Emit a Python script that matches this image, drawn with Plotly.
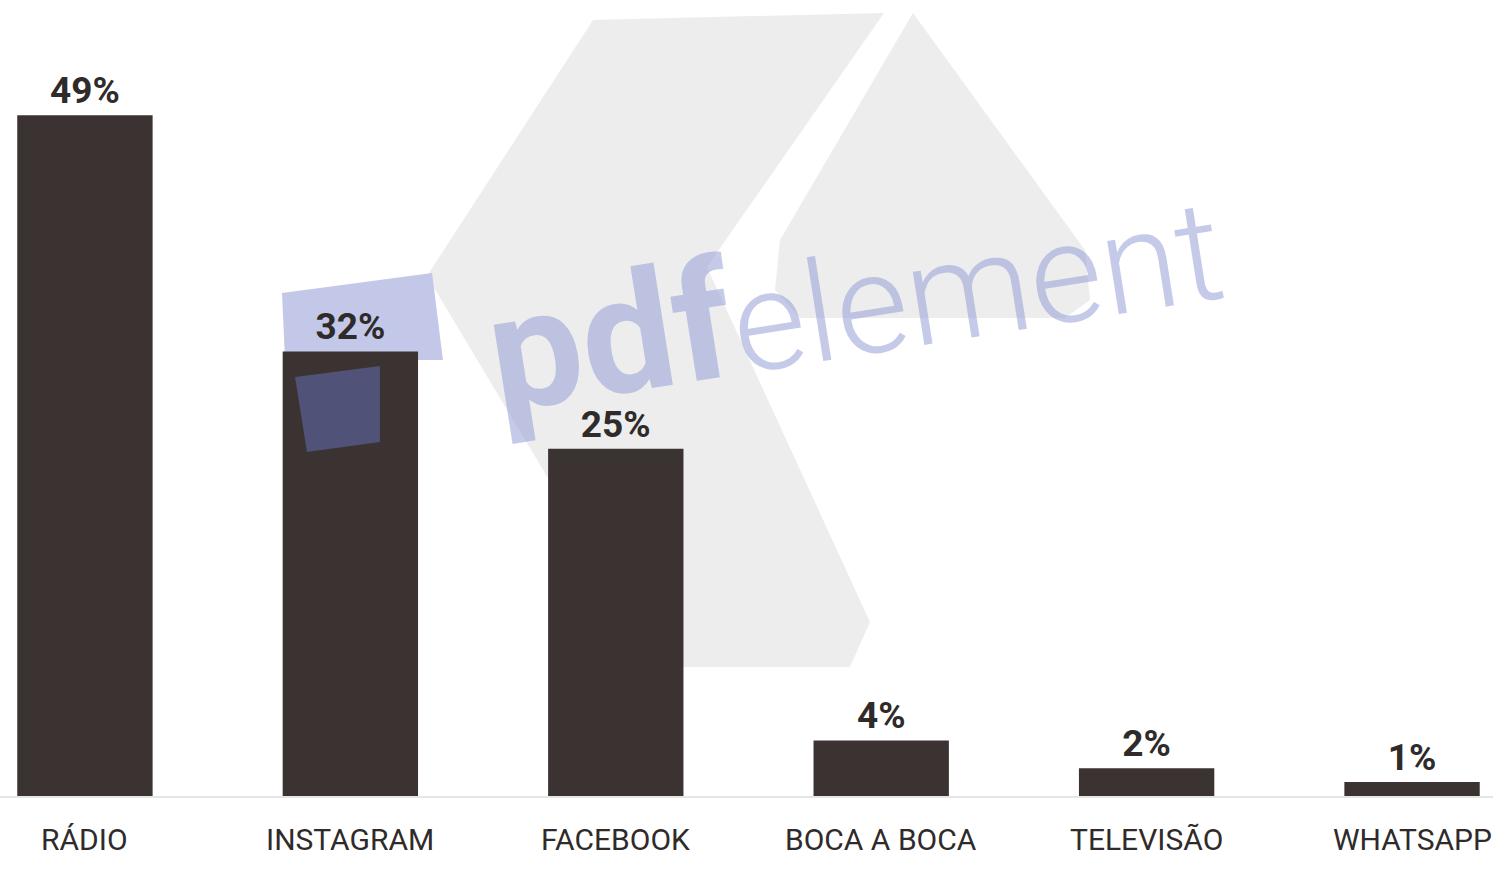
import plotly.graph_objects as go

categories = ["RÁDIO", "INSTAGRAM", "FACEBOOK", "BOCA A BOCA", "TELEVISÃO", "WHATSAPP"]
values = [49, 32, 25, 4, 2, 1]
value_labels = ["49%", "32%", "25%", "4%", "2%", "1%"]

bar_color = "#3a3331"
text_color = "#2f2b2a"
font_family = "Roboto, Arial, sans-serif"

W, H, B = 1493, 874, 78
x_pos = list(range(len(categories)))


def px_path(points):
    # watermark outline given in page pixels -> paper coordinates
    plot_h = H - B
    parts = [f"{x / W:.4f},{(plot_h - y) / plot_h:.4f}" for x, y in points]
    return "M" + " L".join(parts) + " Z"


fig = go.Figure()

fig.add_trace(
    go.Bar(
        x=x_pos,
        y=values,
        text=value_labels,
        textposition="outside",
        textfont=dict(size=37, color=text_color, family=font_family, weight="bold"),
        cliponaxis=False,
        marker=dict(color=bar_color, line=dict(width=0)),
        width=0.51,
    )
)

# category labels under the bars
for xi, cat in zip(x_pos, categories):
    fig.add_annotation(
        x=xi, y=-0.055, xref="x", yref="paper",
        text=cat, showarrow=False, yanchor="middle",
        font=dict(size=30, color=text_color, family=font_family),
    )

# faint scanned watermark (grey logo, lavender square, text)
grey = "rgba(222,222,222,0.55)"
fig.add_shape(type="path", xref="paper", yref="paper", layer="below", fillcolor=grey, line=dict(width=0),
              path=px_path([(593, 20), (884, 13), (707, 267), (870, 622), (850, 667), (661, 667), (427, 276)]))
fig.add_shape(type="path", xref="paper", yref="paper", layer="below", fillcolor=grey, line=dict(width=0),
              path=px_path([(913, 13), (1085, 250), (1090, 300), (1065, 318), (800, 318), (775, 290), (780, 240)]))
fig.add_shape(type="path", xref="paper", yref="paper", layer="below", fillcolor="rgba(196,200,232,1)",
              line=dict(width=0), path=px_path([(282, 293), (432, 273), (443, 360), (285, 360)]))
fig.add_shape(type="path", xref="paper", yref="paper", layer="above", fillcolor="rgba(90,96,150,0.7)",
              line=dict(width=0), path=px_path([(295, 377), (380, 366), (380, 442), (307, 452)]))
fig.add_annotation(
    x=0.573, y=0.625, xref="paper", yref="paper",
    text="<span style='font-weight:bold;font-size:165px'>pdf</span><span style='font-weight:300'>element</span>",
    showarrow=False, textangle=-9,
    font=dict(size=140, color="rgba(150,158,215,0.55)", family=font_family),
)

fig.update_layout(
    width=W,
    height=H,
    margin=dict(l=0, r=0, t=0, b=B, autoexpand=False),
    plot_bgcolor="rgba(0,0,0,0)",
    paper_bgcolor="white",
    showlegend=False,
    xaxis=dict(
        range=[-0.32, 5.305],
        showticklabels=False,
        ticks="",
        showline=True,
        linecolor="#e6e6e6",
        linewidth=2,
        showgrid=False,
        zeroline=False,
    ),
    yaxis=dict(
        range=[0, 57.3],
        visible=False,
        showgrid=False,
        zeroline=False,
    ),
)

fig.write_html(
    "out.html",
    config={"displayModeBar": False},
    post_script="document.body.style.margin='0';document.body.style.overflow='hidden';",
)
